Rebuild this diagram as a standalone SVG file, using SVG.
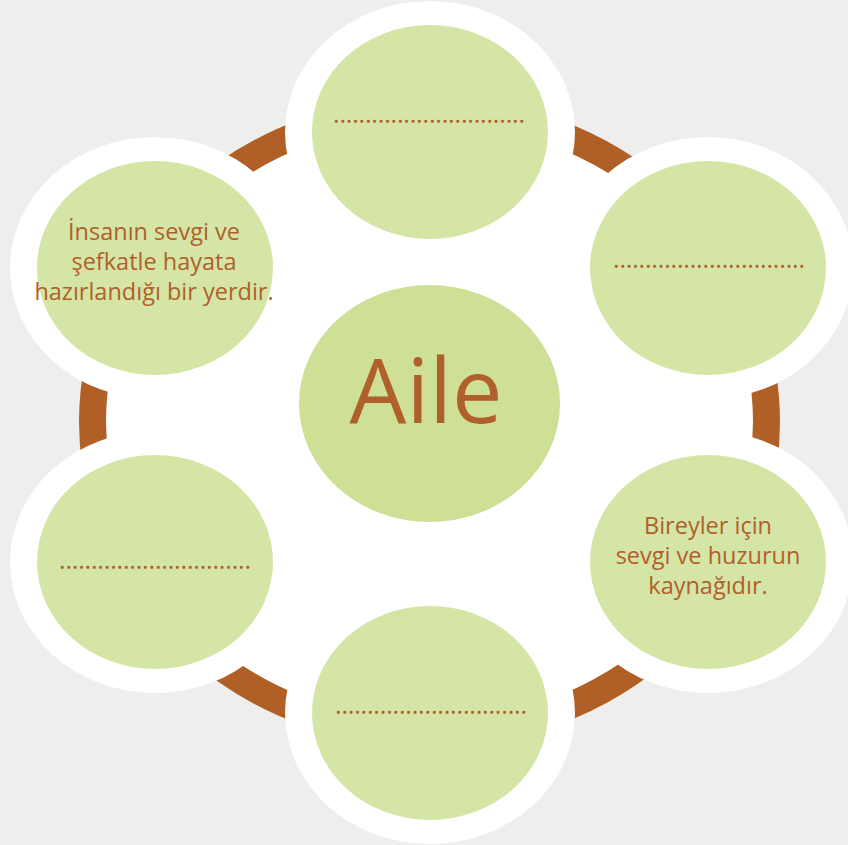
<svg xmlns="http://www.w3.org/2000/svg" width="848" height="845" viewBox="0 0 848 845">
  <style>
    .outer { fill: #ffffff; }
    .inner { fill: #d5e5a6; }
    .core { fill: #cde096; }
    .lbl { font-family: "Open Sans", "Noto Sans", sans-serif; font-size: 23.5px; fill: #b0602a; text-anchor: middle; }
    .dots { font-family: "Open Sans", "Noto Sans", sans-serif; font-size: 25px; fill: #b0602a; }
    .title { font-family: "Open Sans", "Noto Sans", sans-serif; font-size: 90px; fill: #b0602a; text-anchor: middle; }
  </style>
  <rect x="0" y="0" width="848" height="845" fill="#eeeeec"/>
  <g id="connectors">
    <ellipse cx="429.5" cy="422" rx="337" ry="312" fill="#ffffff" stroke="#b06027" stroke-width="27"/>
  </g>
  <g id="node-top">
    <ellipse class="outer" cx="430" cy="132" rx="145" ry="131"/>
    <ellipse class="inner" cx="430" cy="132" rx="118" ry="107"/>
    <text class="dots" x="333" y="123" textLength="192" lengthAdjust="spacing">..............................</text>
  </g>
  <g id="node-upper-right">
    <ellipse class="outer" cx="708" cy="268" rx="145" ry="131"/>
    <ellipse class="inner" cx="708" cy="268" rx="118" ry="107"/>
    <text class="dots" x="613" y="268" textLength="192" lengthAdjust="spacing">..............................</text>
  </g>
  <g id="node-lower-right">
    <ellipse class="outer" cx="708" cy="562" rx="145" ry="131"/>
    <ellipse class="inner" cx="708" cy="562" rx="118" ry="107"/>
    <text class="lbl" x="708" y="534">Bireyler için</text>
    <text class="lbl" x="708" y="564">sevgi ve huzurun</text>
    <text class="lbl" x="708" y="594">kaynağıdır.</text>
  </g>
  <g id="node-bottom">
    <ellipse class="outer" cx="430" cy="713" rx="145" ry="131"/>
    <ellipse class="inner" cx="430" cy="713" rx="118" ry="107"/>
    <text class="dots" x="335" y="714" textLength="192" lengthAdjust="spacing">..............................</text>
  </g>
  <g id="node-lower-left">
    <ellipse class="outer" cx="155" cy="562" rx="145" ry="131"/>
    <ellipse class="inner" cx="155" cy="562" rx="118" ry="107"/>
    <text class="dots" x="59" y="569" textLength="192" lengthAdjust="spacing">..............................</text>
  </g>
  <g id="node-upper-left">
    <ellipse class="outer" cx="155" cy="268" rx="145" ry="131"/>
    <ellipse class="inner" cx="155" cy="268" rx="118" ry="107"/>
    <text class="lbl" x="154" y="240">İnsanın sevgi ve</text>
    <text class="lbl" x="154" y="270">şefkatle hayata</text>
    <text class="lbl" x="154" y="300">hazırlandığı bir yerdir.</text>
  </g>
  <g id="node-center">
    <ellipse class="core" cx="429.5" cy="403.5" rx="130.5" ry="118.5"/>
    <text class="title" x="426" y="423">Aile</text>
  </g>
</svg>
